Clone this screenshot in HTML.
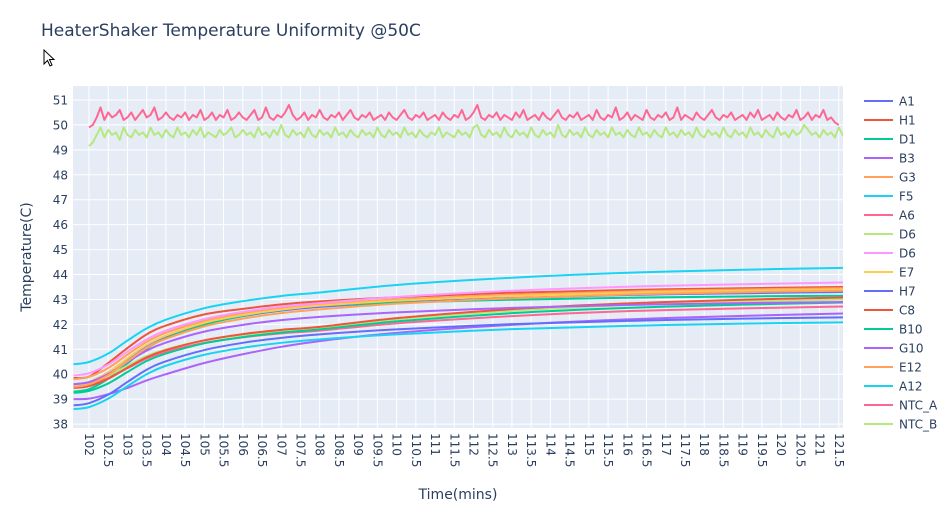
<!DOCTYPE html>
<html><head><meta charset="utf-8">
<style>
body{margin:0;background:#fff;font-family:"DejaVu Sans","Liberation Sans",sans-serif;}
svg text{font-family:"DejaVu Sans","Liberation Sans",sans-serif;fill:#2a3f5f;}
</style></head>
<body>
<svg id="chart" width="947" height="506" xmlns="http://www.w3.org/2000/svg">
<defs><clipPath id="pc"><rect x="73" y="86" width="770" height="342"/></clipPath></defs>
<rect width="947" height="506" fill="#fff"/>
<text x="41" y="36" font-size="17">HeaterShaker Temperature Uniformity @50C</text>
<path d="M44,50 L44,64 L47.5,60.5 L50,66 L52,65 L49.5,59.5 L54,59.5 Z" fill="#fff" stroke="#000" stroke-width="1"/>
<rect x="73" y="86" width="770" height="342" fill="#E5ECF6"/>
<g id="grid"></g>
<g id="series" clip-path="url(#pc)"></g>
<g id="axes"></g>
<text transform="translate(31,257) rotate(-90)" text-anchor="middle" font-size="14">Temperature(C)</text>
<text x="458" y="499" text-anchor="middle" font-size="14">Time(mins)</text>
<g id="legend"></g>
</svg>
<script>
const names=["A1","H1","D1","B3","G3","F5","A6","D6","D6","E7","H7","C8","B10","G10","E12","A12","NTC_A","NTC_B"];
const colors=["#636efa","#EF553B","#00cc96","#ab63fa","#FFA15A","#19d3f3","#FF6692","#B6E880","#FF97FF","#FECB52","#636efa","#EF553B","#00cc96","#ab63fa","#FFA15A","#19d3f3","#FF6692","#B6E880"];
const times=[101.6,102,102.5,103,103.5,104,105,106,107,108,110,113,116,119,121.7];
const sA1=[39.6,39.69,40.07,40.62,41.15,41.52,42.02,42.33,42.55,42.7,42.88,43.06,43.18,43.25,43.3];
const sH1=[39.85,39.9,40.45,41.05,41.6,41.95,42.4,42.62,42.8,42.92,43.09,43.27,43.38,43.45,43.5];
const sD1=[39.3,39.4,39.82,40.44,41.03,41.44,41.99,42.34,42.58,42.75,42.87,42.99,43.07,43.12,43.15];
const sB3=[39.0,39.02,39.2,39.45,39.75,40.0,40.45,40.8,41.1,41.33,41.66,41.98,42.2,42.34,42.44];
const sG3=[39.8,39.89,40.25,40.79,41.3,41.66,42.14,42.44,42.65,42.8,43.0,43.19,43.32,43.4,43.45];
const sF5=[40.4,40.49,40.83,41.35,41.84,42.19,42.65,42.93,43.14,43.28,43.58,43.87,44.07,44.19,44.27];
const sA6=[39.5,39.57,39.84,40.24,40.63,40.9,41.26,41.48,41.64,41.75,42.04,42.33,42.53,42.64,42.72];
const sD6g=[39.6,39.67,39.94,40.34,40.73,41.0,41.36,41.58,41.74,41.85,42.2,42.54,42.77,42.91,43.0];
const sD6p=[39.95,40.04,40.39,40.91,41.4,41.75,42.21,42.5,42.71,42.85,43.1,43.35,43.51,43.61,43.68];
const sE7=[39.6,39.69,40.07,40.64,41.18,41.55,42.06,42.37,42.59,42.75,42.95,43.14,43.27,43.35,43.4];
const sH7=[38.75,38.84,39.18,39.69,40.18,40.52,40.97,41.26,41.46,41.6,41.8,42.01,42.14,42.23,42.28];
const sC8=[39.45,39.52,39.82,40.26,40.68,40.97,41.36,41.61,41.78,41.9,42.25,42.61,42.84,42.99,43.08];
const sB10=[39.25,39.33,39.63,40.09,40.53,40.83,41.24,41.49,41.67,41.8,42.12,42.45,42.66,42.79,42.88];
const sG10=[39.6,39.68,40.01,40.49,40.95,41.27,41.71,41.98,42.17,42.3,42.48,42.66,42.78,42.85,42.9];
const sE12=[39.5,39.59,39.97,40.52,41.05,41.42,41.92,42.23,42.45,42.6,42.83,43.05,43.2,43.29,43.35];
const sA12=[38.6,38.68,39.02,39.52,40.0,40.34,40.78,41.06,41.26,41.4,41.6,41.81,41.94,42.03,42.08];
const ntcStart=102, ntcStep=0.1;
const ntcA=[49.9,50.0,50.3,50.7,50.2,50.5,50.3,50.4,50.6,50.2,50.3,50.5,50.2,50.4,50.6,50.3,50.4,50.7,50.2,50.3,50.5,50.3,50.2,50.4,50.3,50.5,50.2,50.4,50.3,50.6,50.2,50.3,50.5,50.2,50.4,50.3,50.6,50.2,50.3,50.5,50.3,50.2,50.4,50.6,50.2,50.3,50.7,50.3,50.2,50.4,50.3,50.5,50.8,50.4,50.2,50.3,50.5,50.2,50.4,50.3,50.6,50.3,50.2,50.4,50.3,50.5,50.2,50.4,50.6,50.3,50.2,50.4,50.3,50.5,50.2,50.3,50.4,50.2,50.5,50.3,50.2,50.4,50.6,50.3,50.2,50.4,50.3,50.5,50.2,50.3,50.4,50.2,50.5,50.3,50.2,50.4,50.3,50.6,50.2,50.3,50.5,50.8,50.3,50.2,50.4,50.3,50.5,50.2,50.4,50.3,50.2,50.5,50.3,50.6,50.2,50.3,50.4,50.2,50.5,50.3,50.2,50.4,50.6,50.3,50.2,50.4,50.3,50.5,50.2,50.3,50.4,50.2,50.6,50.3,50.2,50.4,50.3,50.7,50.2,50.3,50.5,50.2,50.4,50.3,50.2,50.6,50.3,50.2,50.4,50.3,50.5,50.2,50.3,50.7,50.2,50.4,50.3,50.2,50.5,50.3,50.2,50.4,50.6,50.3,50.2,50.4,50.3,50.5,50.2,50.3,50.4,50.2,50.5,50.3,50.6,50.2,50.3,50.4,50.2,50.5,50.3,50.2,50.4,50.3,50.6,50.2,50.3,50.5,50.2,50.4,50.3,50.6,50.2,50.3,50.1,50.0];
const ntcB=[49.15,49.3,49.6,49.9,49.5,49.8,49.6,49.7,49.4,49.9,49.6,49.5,49.8,49.6,49.7,49.5,49.9,49.6,49.7,49.5,49.8,49.6,49.5,49.9,49.6,49.7,49.5,49.8,49.6,49.9,49.5,49.7,49.6,49.5,49.8,49.6,49.7,49.9,49.5,49.6,49.8,49.6,49.7,49.5,49.9,49.6,49.7,49.5,49.8,49.6,50.0,49.6,49.5,49.8,49.6,49.7,49.5,49.9,49.6,49.5,49.8,49.6,49.7,49.5,49.9,49.6,49.7,49.5,49.8,49.6,49.5,49.8,49.6,49.7,49.5,49.9,49.6,49.5,49.8,49.6,49.7,49.5,49.9,49.6,49.7,49.5,49.8,49.6,49.5,49.7,49.6,49.9,49.5,49.7,49.6,49.5,49.8,49.6,49.7,49.5,49.9,50.0,49.6,49.5,49.8,49.6,49.7,49.5,49.9,49.6,49.5,49.8,49.6,49.7,49.5,49.9,49.6,49.5,49.8,49.6,49.7,49.5,50.0,49.6,49.5,49.8,49.6,49.7,49.5,49.9,49.6,49.5,49.8,49.6,49.7,49.5,49.9,49.6,49.7,49.5,49.8,49.6,49.5,49.9,49.6,49.7,49.5,49.8,49.6,49.5,49.9,49.6,49.7,49.5,49.8,49.6,49.7,49.5,49.9,49.6,49.5,49.8,49.6,49.7,49.5,49.9,49.6,49.5,49.8,49.6,49.7,49.5,49.9,49.6,49.7,49.5,49.8,49.6,49.5,49.9,49.6,49.7,49.5,49.8,49.6,49.7,50.0,49.8,49.6,49.7,49.5,49.8,49.6,49.7,49.5,49.9,49.6,49.5,49.8,49.6,49.5];
const yTicks=[38,39,40,41,42,43,44,45,46,47,48,49,50,51];
const xTicks=[102,102.5,103,103.5,104,104.5,105,105.5,106,106.5,107,107.5,108,108.5,109,109.5,110,110.5,111,111.5,112,112.5,113,113.5,114,114.5,115,115.5,116,116.5,117,117.5,118,118.5,119,119.5,120,120.5,121,121.5];
const smooth=[sA1,sH1,sD1,sB3,sG3,sF5,sA6,sD6g,sD6p,sE7,sH7,sC8,sB10,sG10,sE12,sA12];

const NS="http://www.w3.org/2000/svg";
const X0=73,X1=843,Y0=86,Y1=428;
function xS(t){return 89+(t-102)*38.45;}
function yS(v){return 100+(51-v)*24.93;}
function mk(tag,attrs,parent){const e=document.createElementNS(NS,tag);for(const k in attrs)e.setAttribute(k,attrs[k]);parent.appendChild(e);return e;}
const grid=document.getElementById('grid'),axes=document.getElementById('axes'),ser=document.getElementById('series'),leg=document.getElementById('legend');
yTicks.forEach(v=>{
  const l=mk('line',{x1:X0,x2:X1,y1:yS(v),y2:yS(v),stroke:'#fff','stroke-width':1},grid);
  
  
  const t=mk('text',{x:68,y:yS(v)+4.5,'text-anchor':'end','font-size':12},axes);
  t.textContent=v;
  
  
});
xTicks.forEach(v=>{
  const l=mk('line',{x1:xS(v),x2:xS(v),y1:Y0,y2:Y1,stroke:'#fff','stroke-width':1},grid);
  
  
  const t=mk('text',{transform:`translate(${xS(v)-4},433) rotate(90)`,'font-size':12},axes);
  t.textContent=v;
  
  
});
function curve(pts){
  let d=`M${pts[0][0]},${pts[0][1]}`;
  for(let i=0;i<pts.length-1;i++){
    const p0=pts[i-1]||pts[i],p1=pts[i],p2=pts[i+1],p3=pts[i+2]||p2;
    const c1=[p1[0]+(p2[0]-p0[0])/6,p1[1]+(p2[1]-p0[1])/6];
    const c2=[p2[0]-(p3[0]-p1[0])/6,p2[1]-(p3[1]-p1[1])/6];
    d+=` C${c1[0]},${c1[1]} ${c2[0]},${c2[1]} ${p2[0]},${p2[1]}`;
  }
  return d;
}
smooth.forEach((arr,i)=>{
  const pts=arr.map((v,j)=>[xS(times[j]),yS(v)]);
  const p=mk('path',{d:curve(pts),fill:'none',stroke:colors[i],'stroke-width':2},ser);
  
  
});
[ntcA,ntcB].forEach((arr,k)=>{
  const pts=arr.map((v,j)=>[xS(ntcStart+j*ntcStep),yS(v)].join(',')).join(' ');
  const p=mk('polyline',{points:pts,fill:'none',stroke:colors[16+k],'stroke-width':2,'stroke-linejoin':'round'},ser);
  
  
});
names.forEach((n,i)=>{
  const y=101+i*19;
  const g=mk('g',{},leg);
  
  
  mk('line',{x1:864,x2:893,y1:y,y2:y,stroke:colors[i],'stroke-width':2},g);
  const t=mk('text',{x:899,y:y+4.5,'font-size':12},g);
  t.textContent=n;
});
</script>
</body></html>
